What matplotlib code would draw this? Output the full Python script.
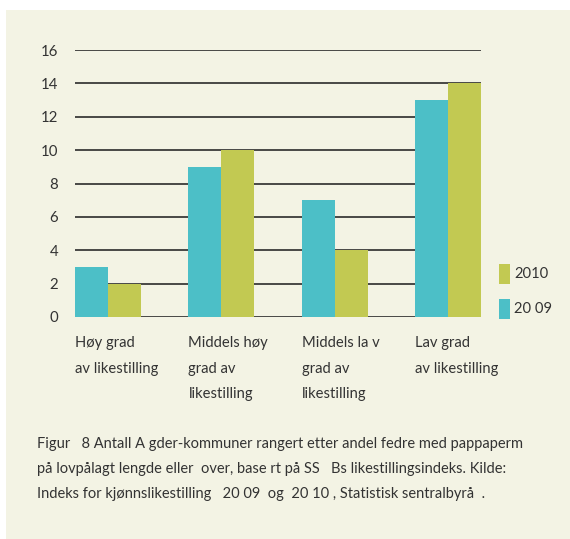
import numpy as np
import matplotlib.pyplot as plt

plt.rcParams['font.family'] = ['Lato', 'DejaVu Sans']

categories = ['Høy grad\nav likestilling', 'Middels høy\ngrad av\nlikestilling',
              'Middels la v\ngrad av\nlikestilling', 'Lav grad\nav likestilling']
v2009 = [3, 9, 7, 13]
v2010 = [2, 10, 4, 14]
yticks = [0, 2, 4, 6, 8, 10, 12, 14, 16]
caption = ('Figur   8 Antall A gder-kommuner rangert etter andel fedre med pappaperm\n'
           'på lovpålagt lengde eller  over, base rt på SS   Bs likestillingsindeks. Kilde:\n'
           'Indeks for kjønnslikestilling   20 09  og  20 10 , Statistisk sentralbyrå  .')

c2009 = '#4cbfc7'
c2010 = '#c2c952'
bg = '#f3f3e4'
txt = '#333333'

W, H = 570, 539
fig = plt.figure(figsize=(W / 100, H / 100), dpi=100)
fig.patch.set_facecolor('white')
# cream panel
fig.patches.append(plt.Rectangle((6 / W, 0), 1 - 6 / W, 1 - 10 / H,
                                 transform=fig.transFigure, facecolor=bg,
                                 edgecolor='none', zorder=-5))

ax = fig.add_axes([75 / W, 1 - 317 / H, (481 - 75) / W, (317 - 50) / H])
ax.set_facecolor('none')

x = np.arange(len(categories))
w = 0.29
ax.bar(x - w / 2, v2009, w, color=c2009, zorder=3)
ax.bar(x + w / 2, v2010, w, color=c2010, zorder=3)
for t in yticks:
    ax.axhline(t, color='#1a1a1a', lw=1.1, zorder=1)

ax.set_xlim(-w, len(categories) - 1 + w)
ax.set_ylim(0, 16)
ax.set_yticks(yticks)
ax.set_yticklabels([str(t) for t in yticks], fontsize=10.8, color=txt)
ax.tick_params(axis='y', length=0, pad=12)
ax.set_xticks([])
for s in ax.spines.values():
    s.set_visible(False)

for xi, lab in zip(x, categories):
    ax.text(xi - w, -1.15, lab, ha='left', va='top', fontsize=10.6, color=txt,
            linespacing=2.05)

# legend
fig.patches.append(plt.Rectangle((499 / W, 1 - 284 / H), 11 / W, 20 / H,
                                 transform=fig.transFigure, facecolor=c2010))
fig.patches.append(plt.Rectangle((499 / W, 1 - 319 / H), 11 / W, 20 / H,
                                 transform=fig.transFigure, facecolor=c2009))
fig.text(514 / W, 1 - 274 / H, '2010', fontsize=10.6, color=txt, va='center')
fig.text(514 / W, 1 - 309 / H, '20 09', fontsize=10.6, color=txt, va='center')

fig.text(37 / W, 1 - 437 / H, caption, fontsize=10.5, color=txt, va='top',
         linespacing=2.0)

fig.savefig('out.png', dpi=100)
